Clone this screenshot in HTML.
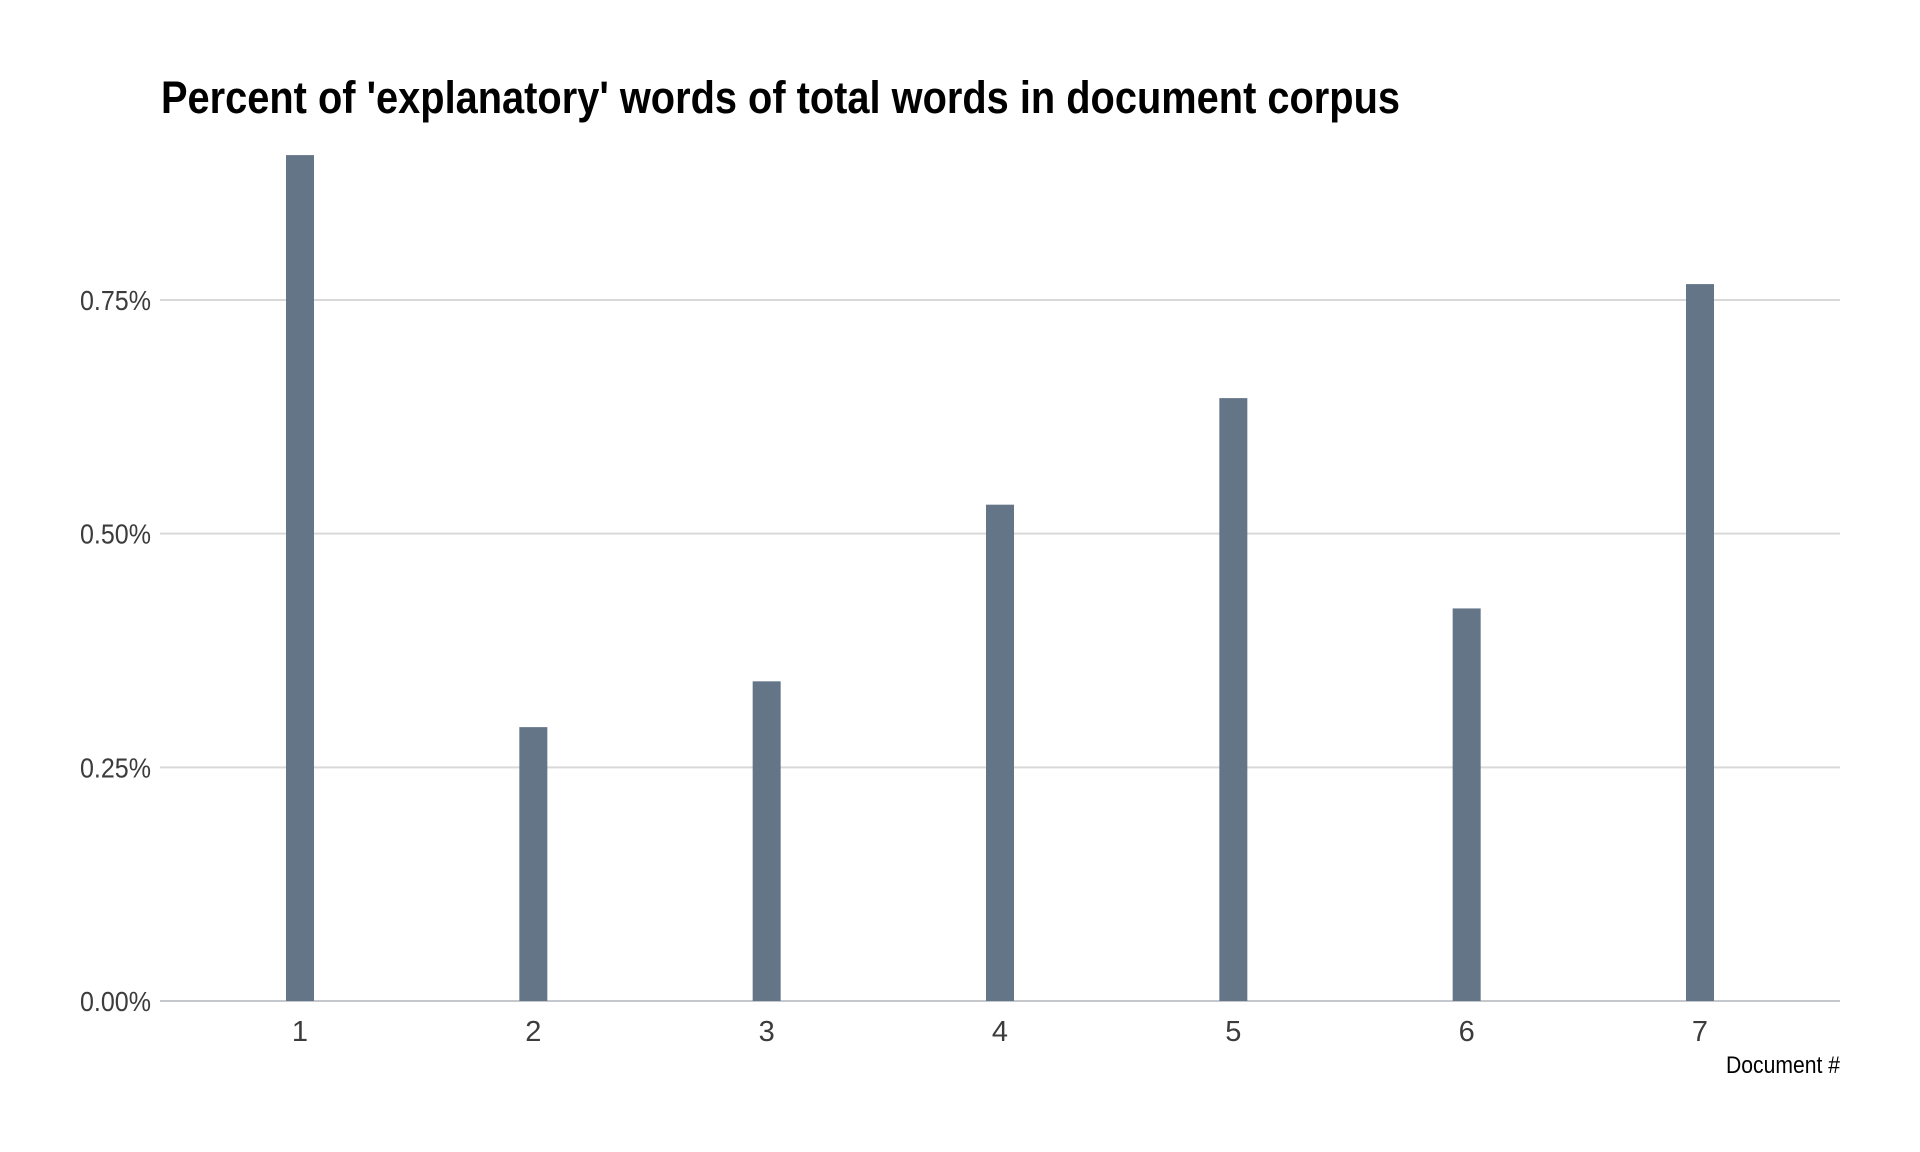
<!DOCTYPE html>
<html><head><meta charset="utf-8"><style>
html,body{margin:0;padding:0;background:#fff;}
svg{display:block;font-family:"Liberation Sans",sans-serif;}
</style></head><body>
<svg id="chart" width="1920" height="1152" viewBox="0 0 1920 1152">
<text x="161" y="113" font-size="45" font-weight="bold" fill="#000" textLength="1239" lengthAdjust="spacingAndGlyphs">Percent of 'explanatory' words of total words in document corpus</text>
<g id="grid"></g><g id="bars"></g><g id="labels"></g>
<text x="1840" y="1073" font-size="24" fill="#000" text-anchor="end" textLength="114" lengthAdjust="spacingAndGlyphs">Document #</text>
</svg>
<script>
const categories = ["1","2","3","4","5","6","7"];
const values = [0.905, 0.293, 0.342, 0.531, 0.645, 0.420, 0.767];
const yTicks = [0, 0.25, 0.5, 0.75];
const yTickLabels = ["0.00%","0.25%","0.50%","0.75%"];

const NS = "http://www.w3.org/2000/svg";
const left = 160, right = 1840, base = 1001, per = 934.7;
const y = v => base - v * per;
const band = (right - left) / (categories.length + 0.2);
const x = i => left + band * (i + 0.6);
const grid = document.getElementById('grid'), bars = document.getElementById('bars'), labels = document.getElementById('labels');
function mk(tag, attrs, parent){const e=document.createElementNS(NS,tag);for(const k in attrs)e.setAttribute(k,attrs[k]);parent.appendChild(e);return e;}
yTicks.forEach((t,i)=>{
  const l = mk('line',{x1:left,x2:right,y1:y(t),y2:y(t),stroke:t===0?'#c4c7cc':'#d9d9d9','stroke-width':2},grid);
  
  
  const tx = mk('text',{x:151,y:y(t)+10,'font-size':28,fill:'#3c3c3c','text-anchor':'end',textLength:71,lengthAdjust:'spacingAndGlyphs'},labels);
  tx.textContent = yTickLabels[i];
  
  
});
categories.forEach((c,i)=>{
  const r = mk('rect',{x:x(i)-14,y:y(values[i]),width:28,height:base-y(values[i]),fill:'#647588'},bars);
  
  
  const tx = mk('text',{x:x(i),y:1041,'font-size':29,fill:'#3c3c3c','text-anchor':'middle'},labels);
  tx.textContent = c;
  
  
});
</script>
</body></html>
